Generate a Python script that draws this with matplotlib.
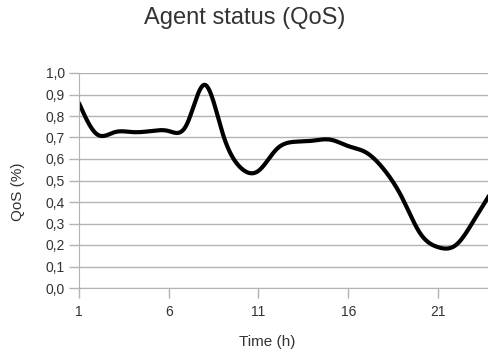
import numpy as np
import matplotlib
matplotlib.use("Agg")
import matplotlib.pyplot as plt
from matplotlib.ticker import FuncFormatter

plt.rcParams['font.family'] = ['Liberation Sans', 'DejaVu Sans']

# hourly QoS values
hours = [1, 2, 3, 4, 5, 6, 7, 8, 9, 10, 11, 12, 13, 14, 15, 16, 17, 18, 19, 20, 21, 22, 23, 24]
qos = [0.86, 0.715, 0.725, 0.725, 0.73, 0.73, 0.76, 0.945, 0.72, 0.56, 0.545, 0.645, 0.68,
       0.685, 0.69, 0.66, 0.63, 0.55, 0.42, 0.255, 0.19, 0.20, 0.315, 0.45]
xticks = [1, 6, 11, 16, 21]


def natural_spline(x, y, n=600):
    # plain natural cubic spline, like the office chart smoothing
    x = np.asarray(x, float)
    y = np.asarray(y, float)
    k = len(x)
    h = np.diff(x)
    A = np.zeros((k, k))
    b = np.zeros(k)
    A[0, 0] = A[-1, -1] = 1
    for i in range(1, k - 1):
        A[i, i - 1] = h[i - 1]
        A[i, i] = 2 * (h[i - 1] + h[i])
        A[i, i + 1] = h[i]
        b[i] = 3 * ((y[i + 1] - y[i]) / h[i] - (y[i] - y[i - 1]) / h[i - 1])
    c = np.linalg.solve(A, b)
    xs = np.linspace(x[0], x[-1], n)
    idx = np.clip(np.searchsorted(x, xs) - 1, 0, k - 2)
    dx = xs - x[idx]
    hi = h[idx]
    bb = (y[idx + 1] - y[idx]) / hi - hi * (2 * c[idx] + c[idx + 1]) / 3
    dd = (c[idx + 1] - c[idx]) / (3 * hi)
    ys = y[idx] + bb * dx + c[idx] * dx ** 2 + dd * dx ** 3
    return xs, ys


fig = plt.figure(figsize=(4.89, 3.53), dpi=100)
ax = fig.add_axes([79 / 489, 1 - 288 / 353, 410 / 489, 215 / 353])

xs, ys = natural_spline(hours, qos)
ax.plot(xs, ys, color='black', lw=3, solid_capstyle='round', clip_on=True)

ax.set_xlim(1, 1 + 410 / 17.95)
ax.set_ylim(0, 1)
ax.set_xticks(xticks)
ax.set_yticks(np.arange(0, 1.01, 0.1))
ax.yaxis.set_major_formatter(FuncFormatter(lambda v, p: f"{v:.1f}".replace('.', ',')))
ax.grid(axis='y', color='#b3b3b3', lw=1)
ax.set_axisbelow(True)

for s in ['top', 'right']:
    ax.spines[s].set_visible(False)
for s in ['left', 'bottom']:
    ax.spines[s].set_color('#b3b3b3')
ax.tick_params(axis='both', colors='#b3b3b3', length=7, width=1, labelcolor='#333333', labelsize=10)
ax.tick_params(axis='y', pad=3)
ax.tick_params(axis='x', pad=5)

fig.text(245 / 489, 1 - 18 / 353, 'Agent status (QoS)', ha='center', va='center',
         fontsize=17, color='#333333')
fig.text(267 / 489, 1 - 342 / 353, 'Time (h)', ha='center', va='center',
         fontsize=11, color='#333333')
fig.text(18 / 489, 1 - 192 / 353, 'QoS (%)', ha='center', va='center', rotation=90,
         fontsize=11, color='#333333')

fig.savefig('out.png', dpi=100)
